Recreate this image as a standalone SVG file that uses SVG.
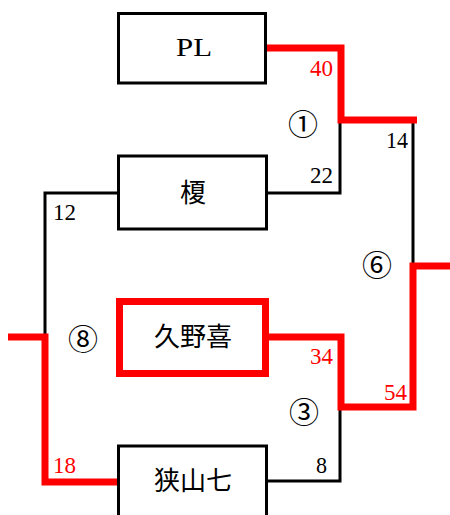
<svg xmlns="http://www.w3.org/2000/svg" width="450" height="515" viewBox="0 0 450 515">
<style>
.box{fill:#fff;stroke:#000;stroke-width:3}
.win{fill:#fff;stroke:#f00;stroke-width:7}
.bl{fill:none;stroke:#000;stroke-width:3}
.rd{fill:none;stroke:#f00;stroke-width:7}
.name{font-family:"Liberation Serif","Noto Sans CJK JP",serif;font-size:26px;text-anchor:middle;dominant-baseline:central}
.sc{font-family:"Liberation Serif",serif;font-size:24px}
.sc.r{fill:#f00}
.cir{font-family:"Noto Sans CJK JP",sans-serif;font-size:30px;text-anchor:middle;dominant-baseline:central}
</style>
<rect width="450" height="515" fill="#fff"/>
<g id="connectors">
<polyline class="bl" points="267,193 340,193 340,120"/>
<polyline class="bl" points="118,193 45,193 45,337"/>
<polyline class="bl" points="413,120 413,266"/>
<polyline class="bl" points="267,481 340,481 340,407"/>
<polyline class="rd" points="266,48 341,48 341,120 417,120"/>
<polyline class="rd" points="269,337 341,337 341,407 413,407 413,266 450,266"/>
<polyline class="rd" points="8,337 45,337 45,482 118,482"/>
</g>
<g id="node-pl"><rect class="box" x="118.5" y="13.5" width="147" height="69.5"/><text x="176" y="56" font-family="'Liberation Serif',serif" font-size="25" textLength="36" lengthAdjust="spacingAndGlyphs">PL</text></g>
<g id="node-enoki"><rect class="box" x="118.5" y="156" width="148" height="73"/><text class="name" x="193" y="193">榎</text></g>
<g id="node-kunoki"><rect class="win" x="119.5" y="301.5" width="146" height="72"/><text class="name" x="193" y="337">久野喜</text></g>
<g id="node-sayama"><rect class="box" x="118.5" y="446" width="148" height="80"/><text class="name" x="193" y="481">狭山七</text></g>
<g id="scores">
<text class="sc r" x="310" y="76" textLength="23" lengthAdjust="spacingAndGlyphs">40</text>
<text class="sc" x="386" y="148" textLength="22" lengthAdjust="spacingAndGlyphs">14</text>
<text class="sc" x="310" y="183" textLength="23" lengthAdjust="spacingAndGlyphs">22</text>
<text class="sc" x="53" y="220" textLength="23" lengthAdjust="spacingAndGlyphs">12</text>
<text class="sc r" x="310" y="364" textLength="23" lengthAdjust="spacingAndGlyphs">34</text>
<text class="sc r" x="384" y="400" textLength="23" lengthAdjust="spacingAndGlyphs">54</text>
<text class="sc" x="316" y="473" textLength="11" lengthAdjust="spacingAndGlyphs">8</text>
<text class="sc r" x="53" y="473" textLength="23" lengthAdjust="spacingAndGlyphs">18</text>
</g>
<g id="rounds">
<text class="cir" x="303" y="122">①</text>
<text class="cir" x="377" y="263">⑥</text>
<text class="cir" x="83" y="337">⑧</text>
<text class="cir" x="304" y="410">③</text>
</g>
</svg>
